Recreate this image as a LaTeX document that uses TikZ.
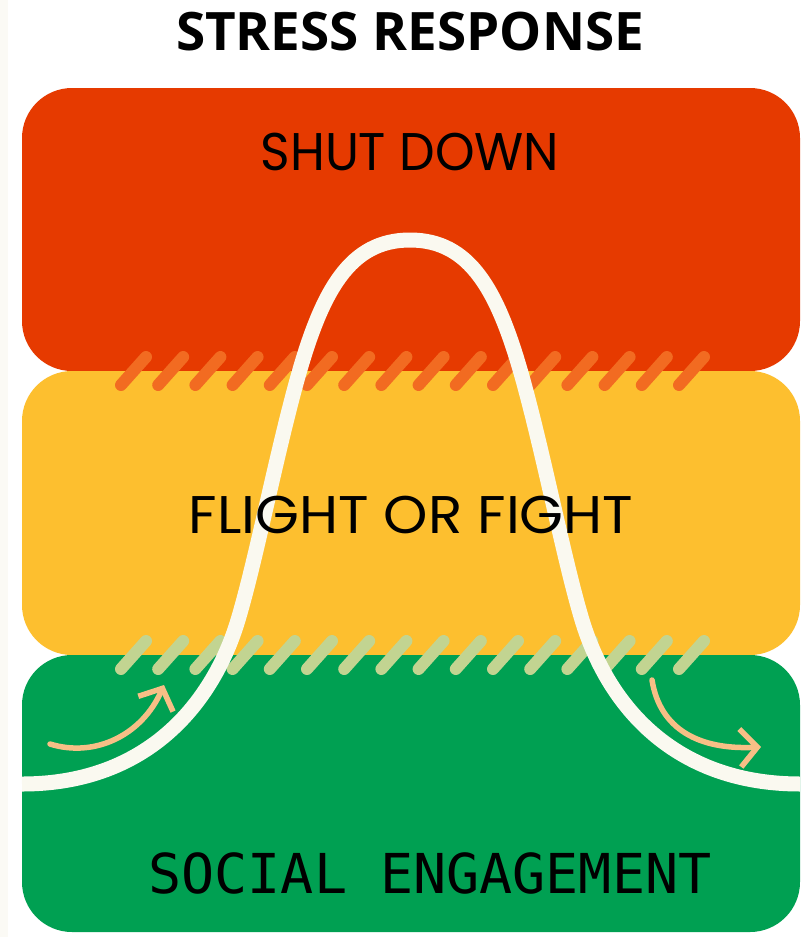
\documentclass[tikz,border=0pt]{standalone}
\usepackage{fontspec}
\usepackage{xcolor}
\usetikzlibrary{arrows.meta, positioning}
\setmainfont{Poppins}
\newfontfamily\titlefont{Open Sans}
\newfontfamily\monofont{DejaVu Sans Mono}

\definecolor{shutred}{HTML}{E63A00}
\definecolor{fightyellow}{HTML}{FDBF2F}
\definecolor{socialgreen}{HTML}{00A052}
\definecolor{hatchorange}{HTML}{F26B21}
\definecolor{hatchgreen}{HTML}{C2D491}
\definecolor{curvecream}{HTML}{FAF9F0}
\definecolor{arrowpeach}{HTML}{F7BF86}
\definecolor{paperstrip}{HTML}{FBFAF5}

\begin{document}
\begin{tikzpicture}[
	x=1pt, y=-1pt,
	zone/.style={rectangle, rounded corners=50pt, minimum width=778pt, inner sep=0pt, draw=none},
	zonelabel/.style={anchor=base, inner sep=0pt, text=black, font=\fontsize{53}{60}\selectfont},
	hatch/.style={line width=12pt, line cap=round},
	arrow/.style={-{Straight Barb[length=17pt, width=38pt]}, line width=5.5pt, line cap=round, draw=arrowpeach}
	]
	% --- Page ---
	\useasboundingbox (0,0) rectangle (805,937);
	\fill[white] (0,0) rectangle (805,937);
	\fill[paperstrip] (0,0) rectangle (8,937);
	\node[anchor=base, inner sep=0pt, font=\titlefont\bfseries\fontsize{53}{60}\selectfont] (title) at (410,50) {STRESS RESPONSE};
	
	% --- Zones ---
	\node[zone, fill=shutred, minimum height=283pt] (shut) at (411,229.5) {};
	\node[zone, fill=fightyellow, minimum height=284pt] (fight) at (411,513) {};
	\node[zone, fill=socialgreen, minimum height=277pt] (social) at (411,793.5) {};
	
	% --- Hatched borders ---
	\foreach \i in {0,...,15} {
		\draw[hatch, hatchorange] ({121+37.2*\i},385) -- ({146+37.2*\i},357);
		\draw[hatch, hatchgreen] ({121+37.2*\i},669) -- ({146+37.2*\i},641);
	}
	
	% --- Response curve ---
	\draw[curvecream, line width=15pt] (22,784) .. controls (150,784) and (214,700) .. (238,620)
		.. controls (256,560) and (275,460) .. (297,380)
		.. controls (322,290) and (350,240) .. (410,240)
		.. controls (470,240) and (498,290) .. (523,380)
		.. controls (545,460) and (564,560) .. (582,620)
		.. controls (610,712) and (680,784) .. (800,784);
	
	% --- Labels ---
	\node[zonelabel] (shuttext) at (410,170) {\scalebox{0.95}[1]{SHUT DOWN}};
	\node[zonelabel] (fighttext) at (411,533) {\scalebox{1.065}[1]{FLIGHT OR FIGHT}};
	\node[zonelabel, font=\monofont\fontsize{55}{60}\selectfont] (socialtext) at (430,893) {SOCIAL ENGAGEMENT};
	
	% --- Arrows ---
	\coordinate (risestart) at (50,744);
	\coordinate (riseend) at (164,685);
	\coordinate (fallstart) at (652,680);
	\coordinate (fallend) at (761,747);
	\draw[arrow] (risestart) .. controls (95,758) and (142,735) .. (riseend);
	\draw[arrow] (fallstart) .. controls (660,730) and (700,750) .. (fallend);
\end{tikzpicture}
\end{document}
